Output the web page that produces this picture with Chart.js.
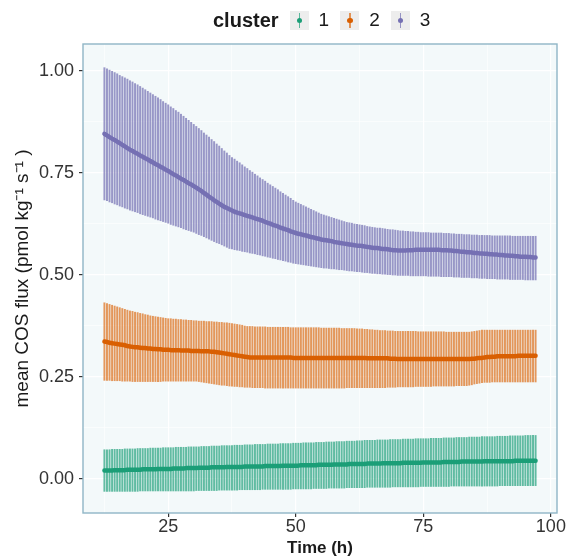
<!DOCTYPE html>
<html>
<head>
<meta charset="utf-8">
<script src="https://cdn.jsdelivr.net/npm/chart.js@4"></script>
<style>
  html, body { margin: 0; padding: 0; background: #ffffff; }
  #wrap { position: relative; width: 567px; height: 558px; font-family: "Liberation Sans", Arial, sans-serif; }
  #legend { position: absolute; top: 7px; left: 213px; display: flex; align-items: center; height: 26px; }
  #legend .title { font-weight: bold; font-size: 20px; color: #1a1a1a; margin-right: 11px; }
  #legend .key { position: relative; width: 19px; height: 19px; background: #ededed; margin-right: 10px; }
  #legend .key .bar { position: absolute; left: 9px; top: 2px; width: 1.5px; height: 15px; }
  #legend .key .dot { position: absolute; left: 7px; top: 7px; width: 5.5px; height: 5.5px; border-radius: 50%; }
  #legend .lab { font-size: 19px; color: #1a1a1a; margin-right: 11px; }
  canvas { position: absolute; left: 0; top: 0; }
</style>
</head>
<body>
<div id="wrap">
  <canvas id="grafico" width="567" height="558"></canvas>
  <div id="legend"></div>
</div>
<script>
// horas de medicion (h)
const hours = [
  12.5,13,13.5,14,14.5,15,15.5,16,16.5,17,
  17.5,18,18.5,19,19.5,20,20.5,21,21.5,22,
  22.5,23,23.5,24,24.5,25,25.5,26,26.5,27,
  27.5,28,28.5,29,29.5,30,30.5,31,31.5,32,
  32.5,33,33.5,34,34.5,35,35.5,36,36.5,37,
  37.5,38,38.5,39,39.5,40,40.5,41,41.5,42,
  42.5,43,43.5,44,44.5,45,45.5,46,46.5,47,
  47.5,48,48.5,49,49.5,50,50.5,51,51.5,52,
  52.5,53,53.5,54,54.5,55,55.5,56,56.5,57,
  57.5,58,58.5,59,59.5,60,60.5,61,61.5,62,
  62.5,63,63.5,64,64.5,65,65.5,66,66.5,67,
  67.5,68,68.5,69,69.5,70,70.5,71,71.5,72,
  72.5,73,73.5,74,74.5,75,75.5,76,76.5,77,
  77.5,78,78.5,79,79.5,80,80.5,81,81.5,82,
  82.5,83,83.5,84,84.5,85,85.5,86,86.5,87,
  87.5,88,88.5,89,89.5,90,90.5,91,91.5,92,
  92.5,93,93.5,94,94.5,95,95.5,96,96.5,97
];

// cluster 1
const c1Mean = [
  .020,.020,.020,.020,.021,.021,.021,.021,.021,.022,
  .022,.022,.022,.022,.022,.023,.023,.023,.023,.023,
  .023,.024,.024,.024,.024,.024,.024,.025,.025,.025,
  .025,.025,.026,.026,.026,.026,.026,.027,.027,.027,
  .027,.027,.028,.028,.028,.028,.028,.028,.029,.029,
  .029,.029,.029,.029,.029,.030,.030,.030,.030,.030,
  .030,.030,.030,.031,.031,.031,.031,.031,.031,.031,
  .032,.032,.032,.032,.032,.032,.032,.033,.033,.033,
  .033,.033,.033,.033,.034,.034,.034,.034,.034,.034,
  .035,.035,.035,.035,.035,.035,.036,.036,.036,.036,
  .036,.036,.036,.037,.037,.037,.037,.037,.037,.038,
  .038,.038,.038,.038,.038,.038,.038,.039,.039,.039,
  .039,.039,.039,.039,.039,.040,.040,.040,.040,.040,
  .040,.040,.040,.041,.041,.041,.041,.041,.041,.041,
  .042,.042,.042,.042,.042,.042,.042,.042,.042,.043,
  .043,.043,.043,.043,.043,.043,.043,.043,.043,.043,
  .043,.044,.044,.044,.044,.044,.044,.044,.044,.044
];
const c1Hi = [
  .071,.071,.071,.072,.072,.072,.072,.072,.073,.073,
  .073,.073,.073,.074,.074,.074,.074,.074,.075,.075,
  .075,.075,.075,.076,.076,.076,.076,.076,.077,.077,
  .077,.077,.077,.078,.078,.078,.078,.078,.079,.079,
  .079,.079,.080,.080,.080,.080,.081,.081,.081,.081,
  .081,.082,.082,.082,.082,.083,.083,.083,.083,.084,
  .084,.084,.084,.084,.085,.085,.085,.085,.085,.086,
  .086,.086,.086,.086,.087,.087,.087,.087,.088,.088,
  .088,.088,.088,.089,.089,.089,.089,.090,.090,.090,
  .090,.091,.091,.091,.091,.092,.092,.092,.092,.093,
  .093,.093,.094,.094,.094,.094,.094,.095,.095,.095,
  .095,.095,.096,.096,.096,.096,.096,.097,.097,.097,
  .097,.097,.098,.098,.098,.098,.098,.098,.099,.099,
  .099,.099,.099,.100,.100,.100,.100,.100,.101,.101,
  .101,.101,.101,.102,.102,.102,.102,.102,.103,.103,
  .103,.103,.103,.103,.104,.104,.104,.104,.104,.105,
  .105,.105,.105,.105,.105,.106,.106,.106,.106,.106
];
const c1Lo = [
  -.031,-.031,-.031,-.031,-.031,-.031,-.031,-.031,-.031,-.031,
  -.031,-.031,-.031,-.031,-.030,-.030,-.030,-.030,-.030,-.030,
  -.030,-.030,-.030,-.030,-.030,-.030,-.030,-.030,-.030,-.030,
  -.030,-.030,-.030,-.030,-.030,-.030,-.029,-.029,-.029,-.029,
  -.029,-.029,-.029,-.029,-.029,-.028,-.028,-.028,-.028,-.028,
  -.028,-.028,-.028,-.027,-.027,-.027,-.027,-.027,-.027,-.027,
  -.027,-.027,-.026,-.026,-.026,-.026,-.026,-.026,-.026,-.026,
  -.026,-.026,-.026,-.026,-.025,-.025,-.025,-.025,-.025,-.025,
  -.025,-.025,-.024,-.024,-.024,-.024,-.024,-.024,-.023,-.023,
  -.023,-.023,-.023,-.023,-.023,-.022,-.022,-.022,-.022,-.022,
  -.022,-.022,-.022,-.021,-.021,-.021,-.021,-.021,-.021,-.021,
  -.021,-.021,-.021,-.020,-.020,-.020,-.020,-.020,-.020,-.020,
  -.020,-.020,-.020,-.020,-.019,-.019,-.019,-.019,-.019,-.019,
  -.019,-.019,-.019,-.019,-.019,-.019,-.018,-.018,-.018,-.018,
  -.018,-.018,-.018,-.018,-.018,-.018,-.018,-.018,-.018,-.018,
  -.018,-.018,-.018,-.018,-.018,-.017,-.017,-.017,-.017,-.017,
  -.017,-.017,-.017,-.017,-.017,-.017,-.017,-.017,-.017,-.017
];

// cluster 2
const c2Mean = [
  .336,.335,.333,.332,.331,.330,.329,.328,.327,.325,
  .324,.323,.322,.322,.321,.320,.320,.319,.319,.318,
  .318,.317,.317,.316,.316,.316,.315,.315,.315,.315,
  .314,.314,.314,.314,.313,.313,.313,.313,.312,.312,
  .312,.312,.311,.311,.310,.309,.308,.307,.306,.305,
  .304,.303,.302,.301,.300,.299,.298,.297,.297,.297,
  .297,.297,.297,.297,.297,.297,.297,.297,.297,.297,
  .297,.297,.297,.297,.296,.296,.296,.296,.296,.296,
  .296,.296,.296,.296,.296,.296,.296,.296,.296,.296,
  .296,.296,.296,.296,.296,.296,.296,.296,.296,.296,
  .296,.296,.296,.295,.295,.295,.295,.295,.295,.295,
  .295,.295,.294,.294,.294,.293,.293,.293,.293,.293,
  .293,.293,.293,.293,.293,.293,.293,.293,.293,.293,
  .293,.293,.293,.293,.293,.293,.293,.293,.293,.293,
  .293,.293,.293,.293,.294,.294,.295,.296,.296,.297,
  .298,.298,.299,.299,.300,.300,.300,.300,.300,.300,
  .300,.300,.301,.301,.301,.301,.301,.301,.301,.301
];
const c2Hi = [
  .431,.429,.427,.425,.423,.421,.419,.417,.415,.413,
  .411,.410,.408,.407,.405,.404,.402,.401,.399,.398,
  .397,.396,.395,.394,.393,.392,.392,.391,.391,.390,
  .390,.389,.389,.388,.388,.387,.387,.386,.386,.386,
  .385,.385,.385,.384,.384,.383,.383,.382,.382,.381,
  .380,.379,.378,.377,.376,.374,.373,.373,.373,.372,
  .372,.372,.372,.372,.371,.371,.371,.371,.371,.371,
  .371,.371,.371,.370,.370,.370,.370,.370,.370,.370,
  .370,.370,.370,.370,.370,.369,.369,.369,.369,.369,
  .369,.369,.369,.368,.368,.368,.368,.368,.368,.367,
  .367,.367,.366,.366,.365,.365,.364,.364,.363,.363,
  .363,.362,.362,.362,.361,.361,.361,.361,.361,.361,
  .361,.361,.361,.360,.360,.360,.360,.360,.360,.360,
  .360,.360,.360,.360,.359,.359,.359,.359,.359,.359,
  .359,.359,.359,.359,.360,.361,.362,.363,.364,.364,
  .364,.364,.364,.364,.364,.364,.364,.364,.364,.364,
  .364,.364,.364,.364,.364,.364,.364,.364,.364,.364
];
const c2Lo = [
  .241,.241,.241,.240,.240,.240,.240,.239,.239,.239,
  .239,.238,.238,.238,.238,.238,.238,.238,.238,.238,
  .238,.238,.238,.239,.239,.239,.239,.239,.239,.239,
  .239,.239,.239,.239,.239,.239,.239,.238,.237,.236,
  .235,.234,.233,.232,.231,.230,.229,.229,.228,.227,
  .227,.226,.226,.225,.225,.224,.224,.224,.223,.223,
  .223,.223,.223,.222,.222,.222,.222,.222,.222,.222,
  .222,.222,.222,.222,.222,.222,.222,.222,.222,.222,
  .222,.222,.222,.222,.222,.222,.222,.222,.222,.222,
  .222,.222,.222,.222,.222,.223,.223,.223,.223,.223,
  .223,.223,.223,.223,.223,.223,.223,.223,.223,.223,
  .223,.224,.224,.224,.224,.225,.225,.225,.225,.225,
  .225,.225,.226,.226,.226,.226,.226,.226,.226,.227,
  .227,.227,.227,.227,.227,.227,.227,.227,.228,.228,
  .228,.228,.228,.229,.230,.232,.233,.234,.235,.236,
  .236,.236,.237,.237,.237,.237,.237,.237,.237,.237,
  .237,.237,.237,.237,.237,.237,.237,.237,.237,.237
];

// cluster 3
const c3Mean = [
  .845,.841,.837,.833,.830,.826,.822,.818,.814,.810,
  .806,.803,.799,.796,.792,.789,.785,.782,.778,.775,
  .771,.768,.764,.761,.757,.754,.750,.746,.743,.739,
  .735,.732,.728,.724,.721,.717,.713,.709,.705,.700,
  .696,.691,.687,.682,.678,.674,.670,.666,.663,.660,
  .657,.654,.652,.650,.648,.646,.644,.642,.640,.638,
  .636,.634,.632,.629,.627,.625,.622,.620,.618,.615,
  .613,.611,.609,.606,.604,.602,.600,.599,.597,.596,
  .594,.592,.591,.589,.588,.586,.585,.584,.583,.582,
  .580,.579,.578,.577,.576,.575,.574,.573,.572,.571,
  .571,.570,.569,.568,.567,.566,.565,.565,.564,.563,
  .563,.562,.561,.560,.560,.559,.559,.559,.559,.560,
  .560,.560,.561,.561,.561,.561,.561,.561,.561,.561,
  .561,.561,.560,.560,.560,.559,.559,.558,.558,.557,
  .556,.556,.555,.555,.554,.553,.553,.552,.552,.551,
  .551,.550,.550,.549,.549,.548,.548,.547,.547,.546,
  .546,.545,.545,.544,.544,.544,.543,.543,.542,.542
];
const c3Hi = [
  1.007,1.004,1.001,.998,.995,.992,.988,.985,.982,.979,
  .975,.972,.968,.965,.961,.957,.953,.949,.945,.941,
  .937,.933,.929,.924,.920,.916,.911,.907,.902,.898,
  .893,.888,.883,.878,.873,.868,.863,.858,.853,.847,
  .842,.837,.831,.826,.820,.815,.809,.803,.798,.792,
  .787,.783,.778,.774,.769,.764,.760,.755,.751,.746,
  .742,.737,.733,.729,.724,.720,.716,.712,.708,.703,
  .699,.695,.691,.687,.682,.678,.675,.672,.669,.666,
  .663,.660,.657,.654,.651,.648,.646,.644,.642,.640,
  .638,.636,.634,.632,.630,.628,.627,.626,.624,.623,
  .622,.621,.620,.618,.617,.616,.615,.614,.614,.613,
  .612,.611,.610,.610,.609,.608,.607,.607,.606,.606,
  .605,.605,.604,.604,.603,.603,.603,.603,.602,.602,
  .602,.602,.602,.601,.601,.601,.600,.600,.599,.599,
  .599,.598,.598,.598,.597,.597,.597,.596,.596,.596,
  .596,.596,.595,.595,.595,.595,.595,.595,.595,.595,
  .594,.594,.594,.594,.594,.594,.594,.594,.594,.594
];
const c3Lo = [
  .683,.681,.678,.676,.673,.671,.668,.666,.663,.661,
  .658,.656,.654,.652,.649,.647,.645,.643,.641,.639,
  .636,.634,.632,.630,.628,.626,.623,.621,.619,.617,
  .615,.612,.610,.608,.606,.604,.601,.598,.596,.593,
  .590,.587,.584,.581,.578,.576,.573,.570,.567,.564,
  .563,.561,.560,.559,.557,.556,.555,.553,.552,.551,
  .549,.548,.546,.545,.543,.542,.540,.539,.537,.536,
  .534,.533,.531,.530,.528,.527,.526,.525,.524,.523,
  .522,.521,.520,.519,.518,.517,.516,.516,.515,.514,
  .514,.513,.512,.512,.511,.510,.509,.509,.508,.507,
  .507,.506,.505,.505,.504,.503,.503,.502,.502,.501,
  .501,.500,.500,.499,.499,.498,.498,.498,.498,.498,
  .497,.497,.497,.497,.497,.497,.497,.496,.496,.496,
  .496,.496,.495,.495,.495,.495,.495,.494,.494,.494,
  .493,.493,.493,.493,.492,.492,.492,.491,.491,.491,
  .490,.490,.490,.490,.489,.489,.489,.489,.489,.488,
  .488,.488,.488,.488,.488,.487,.487,.487,.487,.487
];

const clusterNames = ["1", "2", "3"];
const clusterColors = ["#1b9e77", "#d95f02", "#7570b3"];
const barColors = ["rgba(27,158,119,0.68)", "rgba(217,95,2,0.64)", "rgba(117,112,179,0.72)"];

// ejes
const xTicksMajor = [25, 50, 75, 100];
const xTickLabels = ["25", "50", "75", "100"];
const xTicksMinor = [12.5, 37.5, 62.5, 87.5];
const yTicksMajor = [0, 0.25, 0.5, 0.75, 1];
const yTickLabels = ["0.00", "0.25", "0.50", "0.75", "1.00"];
const yTicksMinor = [0.125, 0.375, 0.625, 0.875];

const series = [
  { mean: c1Mean, lo: c1Lo, hi: c1Hi },
  { mean: c2Mean, lo: c2Lo, hi: c2Hi },
  { mean: c3Mean, lo: c3Lo, hi: c3Hi }
];

// leyenda arriba (html)
function armarLeyenda() {
  const leg = document.getElementById("legend");
  let html = '<span class="title">cluster</span>';
  clusterNames.forEach((n, i) => {
    html += '<span class="key"><span class="bar" style="background:' + barColors[i] + '"></span>' +
            '<span class="dot" style="background:' + clusterColors[i] + '"></span></span>' +
            '<span class="lab">' + n + '</span>';
  });
  leg.innerHTML = html;
}

const datasets = [];
series.forEach((s, i) => {
  datasets.push({
    type: "bar",
    label: "err" + clusterNames[i],
    data: hours.map((h, k) => ({ x: h, y: [s.lo[k], s.hi[k]] })),
    backgroundColor: barColors[i],
    borderWidth: 0,
    barThickness: 1.3,
    grouped: false,
    order: 2
  });
});
series.forEach((s, i) => {
  datasets.push({
    type: "line",
    label: clusterNames[i],
    data: hours.map((h, k) => ({ x: h, y: s.mean[k] })),
    borderColor: clusterColors[i],
    borderWidth: 4.5,
    borderCapStyle: "round",
    borderJoinStyle: "round",
    pointRadius: 0,
    tension: 0,
    fill: false,
    order: 1
  });
});

// fondo y borde del panel
const panelPlugin = {
  id: "panel",
  beforeDraw(chart) {
    const a = chart.chartArea, ctx = chart.ctx;
    ctx.save();
    ctx.fillStyle = "#f3f9fa";
    ctx.fillRect(a.left, a.top, a.right - a.left, a.bottom - a.top);
    ctx.restore();
  },
  afterDraw(chart) {
    const a = chart.chartArea, ctx = chart.ctx;
    ctx.save();
    ctx.strokeStyle = "#8fb6c6";
    ctx.lineWidth = 1.4;
    ctx.strokeRect(a.left, a.top, a.right - a.left, a.bottom - a.top);
    ctx.restore();
  }
};

const isMinor = (list, v) => list.some(m => Math.abs(m - v) < 1e-6);

new Chart(document.getElementById("grafico").getContext("2d"), {
  type: "line",
  data: { datasets: datasets },
  options: {
    responsive: false,
    animation: false,
    devicePixelRatio: 1,
    layout: { padding: { top: 44, right: 10, left: 0, bottom: 0 } },
    plugins: { legend: { display: false }, tooltip: { enabled: false } },
    scales: {
      x: {
        type: "linear",
        min: 8.3,
        max: 101.2,
        offset: false,
        afterBuildTicks: sc => { sc.ticks = xTicksMinor.concat(xTicksMajor).sort((a, b) => a - b).map(v => ({ value: v })); },
        afterFit: sc => { sc.height = 45; },
        ticks: {
          autoSkip: false,
          maxRotation: 0,
          padding: -1,
          color: "#333333",
          font: { family: "Liberation Sans", size: 18 },
          callback: v => { const i = xTicksMajor.indexOf(v); return i >= 0 ? xTickLabels[i] : ""; }
        },
        grid: {
          offset: false,
          color: "#ffffff",
          lineWidth: c => isMinor(xTicksMinor, c.tick.value) ? 0.6 : 1.2,
          tickLength: 4,
          tickColor: c => isMinor(xTicksMinor, c.tick.value) ? "rgba(0,0,0,0)" : "#333333"
        },
        border: { display: false },
        title: {
          display: true,
          text: "Time (h)",
          color: "#1a1a1a",
          font: { family: "Liberation Sans", size: 17, weight: "bold" },
          padding: { top: 0, bottom: -1 }
        }
      },
      y: {
        type: "linear",
        min: -0.084,
        max: 1.065,
        afterBuildTicks: sc => { sc.ticks = yTicksMajor.concat(yTicksMinor).sort((a, b) => a - b).map(v => ({ value: v })); },
        afterFit: sc => { sc.width = 83; },
        ticks: {
          autoSkip: false,
          padding: 5,
          color: "#333333",
          font: { family: "Liberation Sans", size: 18 },
          callback: v => { const i = yTicksMajor.findIndex(m => Math.abs(m - v) < 1e-6); return i >= 0 ? yTickLabels[i] : ""; }
        },
        grid: {
          color: "#ffffff",
          lineWidth: c => isMinor(yTicksMinor, c.tick.value) ? 0.6 : 1.2,
          tickLength: 4,
          tickColor: c => isMinor(yTicksMinor, c.tick.value) ? "rgba(0,0,0,0)" : "#333333"
        },
        border: { display: false },
        title: {
          display: true,
          text: "mean COS flux (pmol kg\u207B\u00B9 s\u207B\u00B9 )",
          color: "#1a1a1a",
          font: { family: "Liberation Sans", size: 19 },
          padding: { top: 11, bottom: 0 }
        }
      }
    }
  },
  plugins: [panelPlugin]
});

armarLeyenda();
</script>
</body>
</html>
